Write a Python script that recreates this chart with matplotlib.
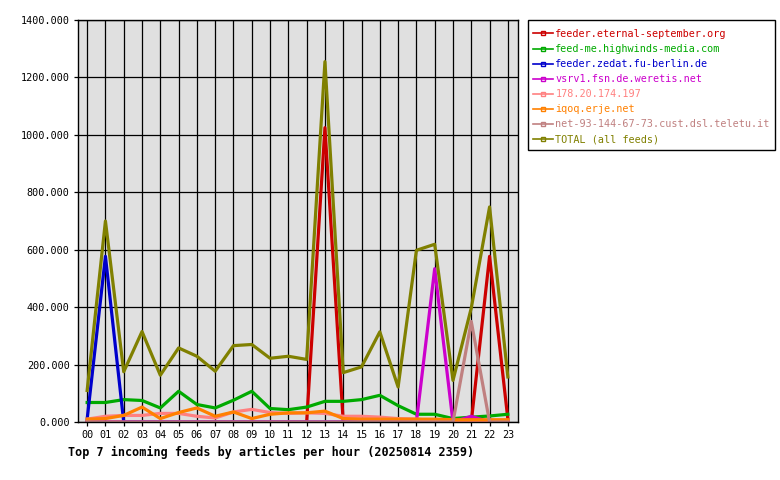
import matplotlib
matplotlib.use("Agg")
import matplotlib.pyplot as plt
from matplotlib.patches import Rectangle

plt.rcParams['font.family'] = ['DejaVu Sans Mono']

hours = ["00", "01", "02", "03", "04", "05", "06", "07", "08", "09", "10", "11",
         "12", "13", "14", "15", "16", "17", "18", "19", "20", "21", "22", "23"]

eternal = [0, 0, 0, 0, 0, 0, 0, 0, 0, 0, 0, 0,
           0, 1025, 0, 0, 0, 0, 0, 0, 0, 0, 577, 10]
highwinds = [68, 68, 78, 75, 49, 107, 61, 49, 76, 107, 47, 43,
             52, 72, 72, 78, 93, 57, 27, 27, 12, 17, 21, 27]
zedat = [10, 577, 0, 0, 0, 0, 0, 0, 0, 0, 0, 0,
         0, 0, 0, 0, 0, 0, 0, 0, 0, 0, 0, 0]
weretis = [0, 0, 0, 0, 0, 0, 0, 0, 0, 0, 0, 0,
           0, 0, 0, 0, 0, 0, 0, 534, 0, 20, 0, 0]
ip178 = [10, 20, 23, 23, 30, 30, 20, 14, 35, 44, 33, 30,
         32, 30, 20, 20, 17, 12, 10, 5, 5, 5, 5, 5]
iqoq = [10, 12, 23, 52, 12, 33, 49, 20, 35, 12, 27, 32,
        32, 38, 12, 10, 10, 10, 10, 10, 8, 8, 8, 8]
teletu = [0, 0, 0, 0, 0, 0, 0, 0, 0, 0, 0, 0,
          0, 0, 0, 0, 0, 0, 0, 0, 0, 350, 0, 0]
total = [110, 700, 175, 315, 163, 258, 229, 177, 266, 270, 222, 229,
         218, 1255, 172, 192, 314, 122, 598, 619, 145, 397, 749, 157]

series = [
    ("feeder.eternal-september.org", eternal, "#cc0000"),
    ("feed-me.highwinds-media.com", highwinds, "#00aa00"),
    ("feeder.zedat.fu-berlin.de", zedat, "#0000cc"),
    ("vsrv1.fsn.de.weretis.net", weretis, "#cc00cc"),
    ("178.20.174.197", ip178, "#ff8080"),
    ("iqoq.erje.net", iqoq, "#ff8000"),
    ("net-93-144-67-73.cust.dsl.teletu.it", teletu, "#c08080"),
    ("TOTAL (all feeds)", total, "#808000"),
]

fig = plt.figure(figsize=(7.8, 4.8), dpi=100)
ax = fig.add_axes([0.1, 0.1208, 0.564, 0.8375])
ax.set_facecolor("#e0e0e0")

x = list(range(len(hours)))
for name, vals, col in series:
    ax.plot(x, vals, color=col, linewidth=2.3, label=name)

ax.set_xlim(-0.5, 23.55)
ax.set_ylim(0, 1400)
ax.set_xticks(x)
ax.set_xticklabels(hours)
ax.set_yticks(range(0, 1401, 200))
ax.set_yticklabels([f"{v}.000" for v in range(0, 1401, 200)])
ax.grid(True, color="black", linewidth=0.9)
ax.set_axisbelow(True)
ax.tick_params(labelsize=7.3, length=3, width=0.9, pad=3, colors="black")
for s in ax.spines.values():
    s.set_linewidth(1.0)

fig.text(0.087, 0.058, "Top 7 incoming feeds by articles per hour (20250814 2359)",
         fontsize=8.5, fontweight="bold", ha="left", va="center")

# legend box drawn separately (padding is bigger on top than at the sides)
fig.patches.append(Rectangle((0.677, 0.6875), 0.3167, 0.2708, transform=fig.transFigure,
                             fill=False, edgecolor="black", linewidth=1.0))

leg_handles = []
for name, vals, col in series:
    h, = ax.plot([], [], color=col, linewidth=1.2, marker='s', markersize=2.5,
                 markerfacecolor='none', markeredgecolor=col)
    leg_handles.append(h)
leg = fig.legend(leg_handles, [s[0] for s in series], loc="upper left",
                 bbox_to_anchor=(533 / 780, 1 - 29 / 480), fontsize=7.3, frameon=False,
                 handlelength=2.0, handletextpad=0.2, labelspacing=0.5,
                 borderpad=0, borderaxespad=0)
for txt, (name, vals, col) in zip(leg.get_texts(), series):
    txt.set_color(col)

fig.savefig("out.png", dpi=100)
